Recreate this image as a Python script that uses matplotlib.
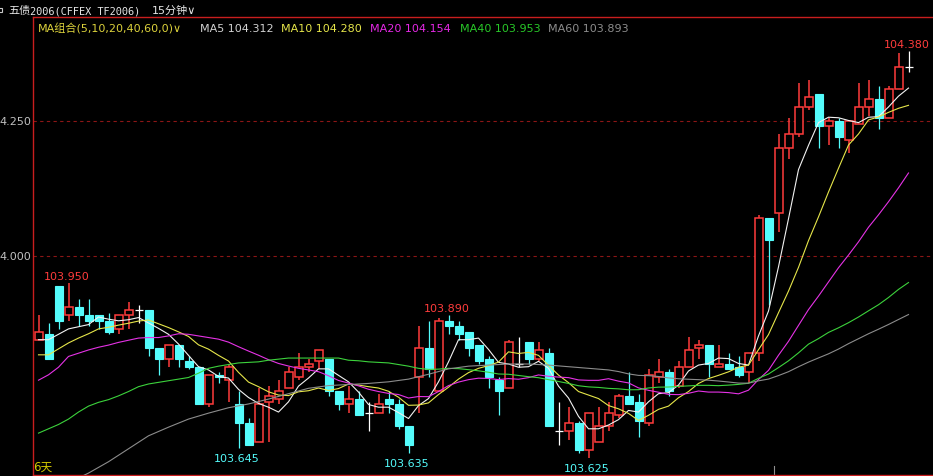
import numpy as np
import pandas as pd
import matplotlib
matplotlib.use('Agg')
import matplotlib.pyplot as plt
import matplotlib.transforms as mtransforms
from matplotlib.patches import Rectangle

# 15-minute bars, TF2006
opens = [103.845, 103.855, 103.945, 103.890, 103.905, 103.890, 103.890, 103.880, 103.865, 103.890,
         103.900, 103.900, 103.830, 103.810, 103.835, 103.805, 103.795, 103.725, 103.780, 103.770,
         103.725, 103.690, 103.655, 103.730, 103.735, 103.755, 103.775, 103.795, 103.805, 103.810,
         103.750, 103.725, 103.735, 103.710, 103.710, 103.735, 103.725, 103.685, 103.775, 103.830,
         103.750, 103.880, 103.870, 103.860, 103.835, 103.810, 103.770, 103.755, 103.800, 103.840,
         103.810, 103.820, 103.675, 103.675, 103.690, 103.640, 103.655, 103.685, 103.705, 103.740,
         103.730, 103.690, 103.775, 103.785, 103.760, 103.795, 103.830, 103.835, 103.795, 103.800,
         103.795, 103.785, 103.820, 104.070, 104.080, 104.200, 104.225, 104.275, 104.300, 104.240,
         104.250, 104.215, 104.245, 104.275, 104.290, 104.255, 104.310, 104.350]
highs = [103.890, 103.875, 103.945, 103.950, 103.920, 103.920, 103.890, 103.895, 103.890, 103.915,
         103.910, 103.900, 103.830, 103.835, 103.835, 103.815, 103.795, 103.780, 103.785, 103.800,
         103.750, 103.700, 103.755, 103.760, 103.770, 103.795, 103.820, 103.810, 103.825, 103.810,
         103.750, 103.760, 103.750, 103.730, 103.745, 103.750, 103.735, 103.685, 103.870, 103.880,
         103.885, 103.890, 103.880, 103.860, 103.835, 103.815, 103.775, 103.845, 103.850, 103.840,
         103.840, 103.830, 103.730, 103.720, 103.695, 103.710, 103.720, 103.730, 103.745, 103.785,
         103.745, 103.790, 103.810, 103.790, 103.805, 103.850, 103.845, 103.835, 103.835, 103.820,
         103.815, 103.820, 104.075, 104.070, 104.225, 104.255, 104.320, 104.325, 104.300, 104.255,
         104.255, 104.250, 104.320, 104.325, 104.315, 104.315, 104.375, 104.380]
lows = [103.845, 103.810, 103.865, 103.880, 103.870, 103.870, 103.865, 103.855, 103.855, 103.865,
        103.875, 103.815, 103.780, 103.795, 103.795, 103.790, 103.725, 103.720, 103.765, 103.730,
        103.645, 103.650, 103.655, 103.655, 103.725, 103.755, 103.770, 103.785, 103.790, 103.740,
        103.715, 103.710, 103.705, 103.675, 103.710, 103.710, 103.680, 103.635, 103.710, 103.775,
        103.750, 103.855, 103.845, 103.815, 103.800, 103.755, 103.705, 103.755, 103.795, 103.800,
        103.805, 103.685, 103.650, 103.660, 103.635, 103.625, 103.655, 103.675, 103.700, 103.725,
        103.665, 103.685, 103.765, 103.740, 103.755, 103.795, 103.810, 103.775, 103.795, 103.790,
        103.775, 103.765, 103.805, 103.910, 104.045, 104.180, 104.220, 104.270, 104.200, 104.205,
        104.200, 104.190, 104.245, 104.260, 104.235, 104.255, 104.310, 104.340]
closes = [103.860, 103.810, 103.880, 103.905, 103.890, 103.880, 103.880, 103.860, 103.890, 103.900,
          103.900, 103.830, 103.810, 103.835, 103.810, 103.795, 103.725, 103.780, 103.775, 103.795,
          103.690, 103.650, 103.725, 103.740, 103.750, 103.785, 103.795, 103.800, 103.825, 103.750,
          103.725, 103.735, 103.705, 103.710, 103.725, 103.725, 103.685, 103.650, 103.830, 103.790,
          103.880, 103.870, 103.855, 103.830, 103.805, 103.775, 103.750, 103.840, 103.800, 103.810,
          103.825, 103.685, 103.675, 103.690, 103.640, 103.710, 103.685, 103.710, 103.740, 103.725,
          103.695, 103.780, 103.785, 103.750, 103.795, 103.825, 103.835, 103.800, 103.800, 103.790,
          103.780, 103.820, 104.070, 104.030, 104.200, 104.225, 104.275, 104.295, 104.240, 104.250,
          104.220, 104.250, 104.275, 104.290, 104.255, 104.310, 104.350, 104.350]

# moving averages before enough bars are on screen
ma5_head = [103.845, 103.845, 103.855, 103.865]
ma10_head = [103.817, 103.817, 103.828, 103.839, 103.848, 103.856, 103.865, 103.868, 103.872]
ma20_head = [103.770, 103.780, 103.794, 103.814, 103.820, 103.826, 103.831, 103.835, 103.840, 103.844,
             103.848, 103.849, 103.849, 103.852, 103.856, 103.855, 103.852, 103.849, 103.846]
ma40_head = [103.672, 103.680, 103.688, 103.698, 103.711, 103.722, 103.729, 103.734, 103.741, 103.749,
             103.758, 103.763, 103.766, 103.769, 103.772, 103.775, 103.783, 103.792, 103.796, 103.799,
             103.802, 103.803, 103.804, 103.807, 103.809, 103.811, 103.811, 103.811, 103.811, 103.811,
             103.811, 103.807, 103.806, 103.804, 103.803, 103.802, 103.799, 103.796, 103.792]
ma60_head_idx = [4, 5, 7, 9, 11, 13, 15, 17, 19, 21, 23, 25, 27, 29, 31, 33, 35, 37, 39, 41,
                 43, 45, 47, 49, 51, 53, 55, 57, 58]
ma60_head = [103.589, 103.598, 103.619, 103.643, 103.667, 103.683, 103.698, 103.709, 103.719, 103.726,
             103.735, 103.745, 103.755, 103.760, 103.762, 103.764, 103.767, 103.772, 103.781, 103.791,
             103.796, 103.798, 103.800, 103.800, 103.798, 103.795, 103.792, 103.789, 103.786]

ma_periods = [5, 10, 20, 40, 60]
ma_last = [104.312, 104.280, 104.154, 103.953, 103.893]
ma_colors = ['#f2f2f2', '#e6e64a', '#e632e6', '#3cd23c', '#8c8c8c']
ma_heads = [(list(range(4)), ma5_head), (list(range(9)), ma10_head), (list(range(19)), ma20_head),
            (list(range(39)), ma40_head), (ma60_head_idx, ma60_head)]

grid_prices = [104.000, 104.250]
mark_high = [3, 41, 87]
mark_low = [20, 37, 55]
session_breaks = [73.5]

W, H = 933, 477
red = '#ff3c3c'
cyan = '#54fcfc'
axis_red = '#c81e1e'
CJK = ['DejaVu Sans', 'Noto Sans CJK SC']

fig = plt.figure(figsize=(W / 100, H / 100), dpi=100, facecolor='black')
ax = fig.add_axes([33 / W, 1 / H, (W - 33) / W, 458 / H], facecolor='black')
ax.set_xlim(-0.55, 89.45)
ax.set_ylim(103.59444, 104.44259)
ax.set_xticks([])
ax.set_yticks([])
for s in ['left', 'top', 'bottom']:
    ax.spines[s].set_color(axis_red)
    ax.spines[s].set_linewidth(1.0)
ax.spines['right'].set_visible(False)

for g in grid_prices:
    ax.axhline(g, color='#8c1616', lw=0.8, ls=(0, (3, 3)), zorder=0)
    fig.text(31 / W, ax.transData.transform((0, g))[1] / H, f"{g:.3f}"[2:],
             color='#c0c0c0', fontsize=8, ha='right', va='center')

w = 0.8
lw = 1.1
for i, (o, h, l, c) in enumerate(zip(opens, highs, lows, closes)):
    if c > o:
        ax.add_patch(Rectangle((i - w / 2, o), w, c - o, facecolor='black', edgecolor=red,
                               lw=lw, zorder=2))
        ax.vlines(i, c, h, color=red, lw=lw, zorder=2)
        ax.vlines(i, l, o, color=red, lw=lw, zorder=2)
    elif c < o:
        ax.vlines(i, l, h, color=cyan, lw=0.9, zorder=2)
        ax.add_patch(Rectangle((i - w / 2, c), w, o - c, facecolor=cyan, edgecolor=cyan,
                               lw=0.8, zorder=2))
    else:
        ax.vlines(i, l, h, color='white', lw=0.9, zorder=2)
        ax.hlines(c, i - w / 2, i + w / 2, color='white', lw=0.9, zorder=2)

roll_src = pd.Series(closes)
for n, col, (hx, hy) in zip(ma_periods, ma_colors, ma_heads):
    roll = roll_src.rolling(n).mean().to_numpy()
    xs = list(hx) + list(range(n - 1, len(closes)))
    ys = list(hy) + list(roll[n - 1:])
    ax.plot(xs, ys, color=col, lw=0.8, zorder=3)

for i in mark_high:
    ax.annotate(f"{highs[i]:.3f}", (i - 0.2, highs[i]), xytext=(0, 7), textcoords='offset pixels',
                ha='center', va='center', color=red, fontsize=8, zorder=4)
for i in mark_low:
    ax.annotate(f"{lows[i]:.3f}", (i - 0.2, lows[i]), xytext=(0, -10), textcoords='offset pixels',
                ha='center', va='center', color=cyan, fontsize=8, zorder=4)

trans = mtransforms.blended_transform_factory(ax.transData, ax.transAxes)
for b in session_breaks:
    ax.plot([b, b], [0, 0.02], color='#909090', lw=0.8, transform=trans, clip_on=False)


def px(x, y):
    return x / W, 1 - y / H


# header row
fig.patches.append(Rectangle(px(-3, 13), 5 / W, 4 / H, transform=fig.transFigure,
                             facecolor='none', edgecolor='#c8c8c8', lw=0.8))
fig.text(*px(8, 11), "五债", color='#e6e6e6', fontsize=8, family=CJK, va='center')
fig.text(*px(30, 11), "2006(CFFEX TF2006)", color='#e6e6e6', fontsize=7.4,
         family='DejaVu Sans Mono', va='center')
fig.text(*px(152, 11), "15分钟∨", color='#e6e6e6', fontsize=8, family=CJK, va='center')

# MA legend row
fig.text(*px(38, 28.5), "MA组合(5,10,20,40,60,0)∨", color='#dcd23c', fontsize=8, family=CJK,
         va='center')
legend_x = [200, 281, 370, 460, 548]
legend_cols = ['#d2d2d2', '#e6e64a', '#e628e6', '#28c828', '#8c8c8c']
for lx, n, v, col in zip(legend_x, ma_periods, ma_last, legend_cols):
    fig.text(*px(lx, 28.5), f"MA{n} {v:.3f}", color=col, fontsize=8, va='center')

fig.text(*px(33, 467), "6天", color='#d2c800', fontsize=8.5, family=CJK, va='center')

fig.savefig('out.png', dpi=100, facecolor='black')
